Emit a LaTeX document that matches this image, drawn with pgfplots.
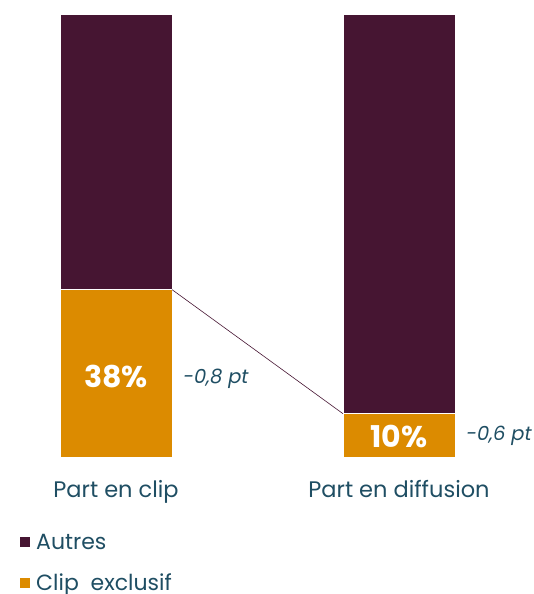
\documentclass[border=0pt]{standalone}
\usepackage{pgfplots}
\pgfplotsset{compat=1.18}
\usepackage{fontspec}
\setmainfont{Poppins}
\definecolor{autres}{HTML}{461532}
\definecolor{clip}{HTML}{DC8B00}
\definecolor{txt}{HTML}{1F4E63}
\begin{document}
\begin{tikzpicture}
\useasboundingbox (0pt,0pt) rectangle (534pt,594pt);
% stacked bars
\begin{axis}[
  at={(0pt,136pt)}, anchor=south west,
  scale only axis, width=534pt, height=443pt,
  xmin=-0.41, xmax=1.477, ymin=0, ymax=100,
  ybar stacked, bar width=112pt,
  axis x line*=bottom, axis y line*=left,
  axis line style={draw=none},
  xtick={0,1}, xticklabels={Part en clip, Part en diffusion},
  ytick=\empty, major tick length=0pt,
  xticklabel style={font=\fontsize{22.5}{27}\selectfont, text=txt, yshift=-19pt},
  reverse legend,
  legend style={draw=none, fill=none, at={(0.03,-0.162)}, anchor=north west,
    font=\fontsize{22}{26}\selectfont, text=txt, row sep=19pt,
    legend cell align=left},
  legend image code/.code={\fill[#1] (0pt,-5.5pt) rectangle (11pt,5.5pt);
    \path (14pt,0pt);},
]
\addplot[fill=clip, draw=white, line width=1pt] coordinates {(0,38) (1,10)};
\addplot[fill=autres, draw=white, line width=1pt] coordinates {(0,62) (1,90)};
\legend{Clip\ \ exclusif, Autres}
\end{axis}
% connector and labels
\begin{axis}[
  at={(0pt,136pt)}, anchor=south west,
  scale only axis, width=534pt, height=443pt,
  xmin=-0.41, xmax=1.477, ymin=0, ymax=100,
  hide axis, clip=false,
]
\addplot[autres, line width=0.6pt, mark=none] coordinates {(0.198,38) (0.802,10)};
\addplot[draw=none, mark=none, nodes near coords, point meta=explicit symbolic,
  every node near coord/.style={anchor=center, text=white,
    font=\fontsize{30}{36}\selectfont\bfseries}]
  coordinates {(0,18.5)[38\%] (1,4.8)[10\%]};
\addplot[draw=none, mark=none, nodes near coords, point meta=explicit symbolic,
  every node near coord/.style={anchor=west, inner sep=0pt, text=txt,
    font=\fontsize{19.5}{23}\selectfont\itshape}]
  coordinates {(0.237,17.8)[-0,8 pt] (1.237,5)[-0,6 pt]};
\end{axis}
\end{tikzpicture}
\end{document}
